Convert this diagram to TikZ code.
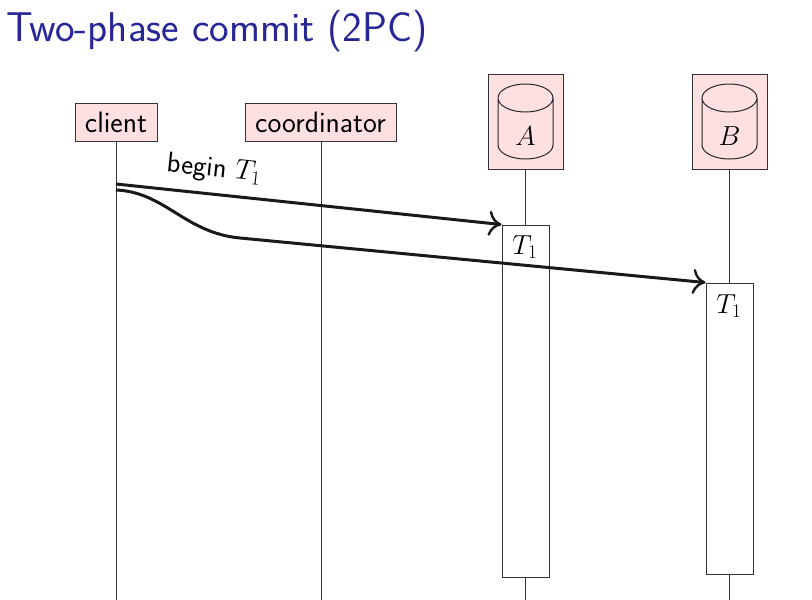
\documentclass[tikz,border=0pt]{standalone}
\usepackage{fix-cm}
\usepackage{amsmath,amssymb}
\usetikzlibrary{arrows.meta}
\definecolor{titleblue}{RGB}{38,38,150}
\definecolor{boxpink}{RGB}{255,224,224}
\tikzset{
  role/.style={draw=black!80,fill=boxpink,line width=0.9pt,inner sep=0pt,font=\fontsize{29.5}{35}\selectfont\sffamily},
  dbbox/.style={draw=black!80,fill=boxpink,line width=0.9pt,minimum width=75pt,minimum height=95pt,inner sep=0pt},
  txbox/.style={draw=black!80,fill=white,line width=0.9pt,minimum width=47pt,inner sep=0pt},
  life/.style={draw=black!80,line width=0.9pt},
  msg/.style={->,line width=3pt,black!90},
  dbline/.style={draw=black!85,line width=1pt},
  mathtext/.style={inner sep=0pt,font=\fontsize{27.5}{33}\selectfont}
}
\begin{document}
\begin{tikzpicture}[x=1pt,y=-1pt,>={Computer Modern Rightarrow[length=13pt,width=25pt,line width=2.4pt]}]
  \useasboundingbox (0,0) rectangle (812,600);

  \node[anchor=west,inner sep=0pt,text=titleblue,font=\fontsize{41.6}{50}\selectfont\sffamily] (title) at (6,31) {Two-phase commit (2PC)};

  % Participants along the top.
  \node[role,minimum width=82pt,minimum height=38pt] (client) at (116,122) {client};
  \node[role,minimum width=151pt,minimum height=38pt] (coordinator) at (320.5,122) {coordinator};
  \node[dbbox] (dbA) at (525.5,121.5) {};
  \node[dbbox] (dbB) at (729.5,121.5) {};

  % Cylinders inside the database boxes.
  \draw[dbline] (498,98) arc[start angle=180,end angle=540,x radius=27.5,y radius=14]
    (498,98) -- (498,145) arc[start angle=180,end angle=0,x radius=27.5,y radius=14] -- (553,98);
  \draw[dbline] (702,98) arc[start angle=180,end angle=540,x radius=27.5,y radius=14]
    (702,98) -- (702,145) arc[start angle=180,end angle=0,x radius=27.5,y radius=14] -- (757,98);
  \node[mathtext] (labelA) at (525.5,136.5) {$A$};
  \node[mathtext] (labelB) at (729.5,136.5) {$B$};

  % Lower ends of the lifelines.
  \coordinate (clientend) at (116,600);
  \coordinate (coordend) at (321,600);
  \coordinate (Aend) at (525.5,600);
  \coordinate (Bend) at (729.5,600);

  \draw[life] (client.south) -- (clientend);
  \draw[life] (coordinator.south -| coordend) -- (coordend);

  % Transaction boxes on the two databases.
  \node[txbox,minimum height=352pt] (txA) at (525.5,401) {};
  \node[txbox,minimum height=291pt] (txB) at (729.5,428.5) {};
  \draw[life] (dbA.south) -- (txA.north);
  \draw[life] (txA.south) -- (Aend);
  \draw[life] (dbB.south) -- (txB.north);
  \draw[life] (txB.south) -- (Bend);
  \node[mathtext] (txlabelA) at (525,247) {$T_1$};
  \node[mathtext] (txlabelB) at (729,306) {$T_1$};

  % Messages from the client.
  \coordinate (sendA) at (116,184);
  \coordinate (sendB) at (116,190);
  \draw[msg] (sendA) -- (txA.north west);
  \draw[msg] (sendB) .. controls (165,192) and (185,233) .. (240,238) -- (txB.north west);
  \node[rotate=-6,inner sep=0pt,font=\fontsize{28.5}{34}\selectfont\sffamily] (beginlabel) at (214,169.5) {begin $T_1$};
\end{tikzpicture}
\end{document}
